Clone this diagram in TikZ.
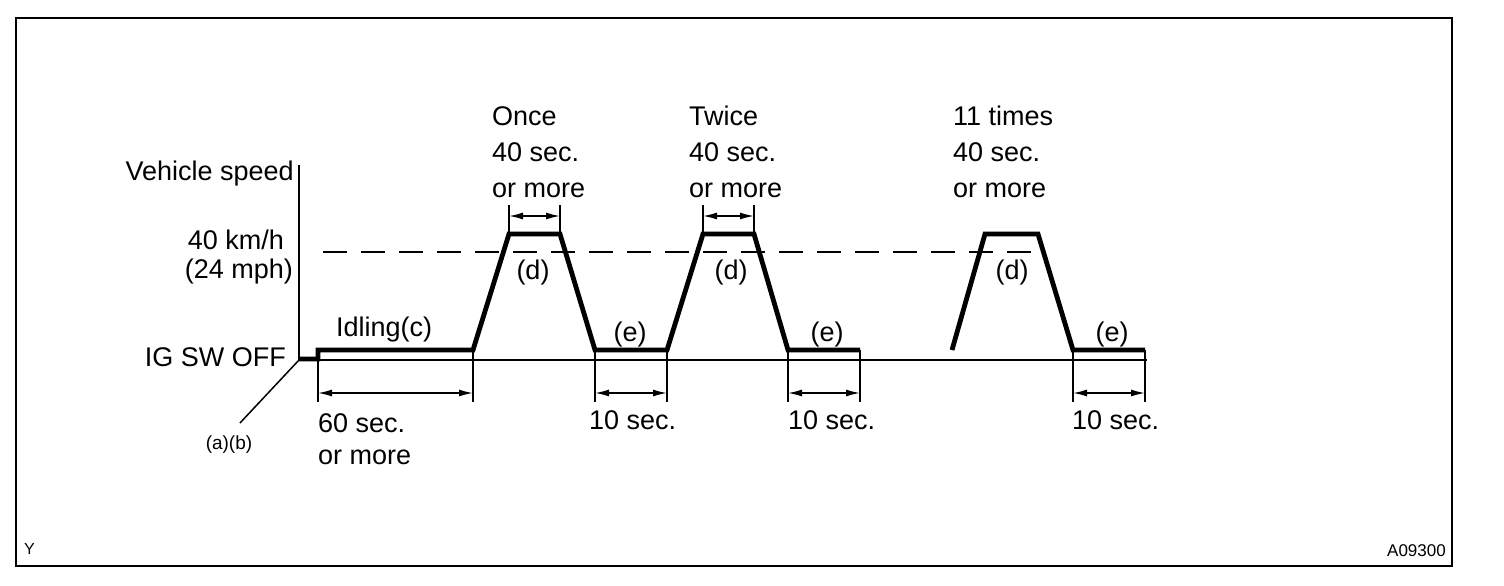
\documentclass[tikz,border=0pt]{standalone}
\usepackage{fontspec}
\setmainfont{Liberation Sans}
\usetikzlibrary{arrows.meta, positioning, calc}

\begin{document}
\begin{tikzpicture}[x=1pt, y=-1pt,
    every node/.style={font=\fontsize{27}{36}\selectfont, inner sep=0pt},
    speed/.style={line width=4.8pt, line join=miter},
    thin/.style={line width=1.5pt},
    dim/.style={line width=1.5pt, {Latex[length=14pt,width=7pt]}-{Latex[length=14pt,width=7pt]}},
    tiny/.style={font=\fontsize{19}{20}\selectfont}]
    \useasboundingbox (0,0) rectangle (1504,586);
    \draw[line width=2.8pt] (16,18) rectangle (1452,566);
    % axes
    \coordinate (o) at (299,360);
    \coordinate (ytop) at (299,165);
    \coordinate (xend) at (1147,360);
    \coordinate (diag) at (240,423);
    \draw[thin] (ytop) -- (o) -- (xend);
    \draw[thin] (o) -- (diag);
    % 40 km/h level
    \coordinate (lv1) at (323,252);
    \coordinate (lv2) at (1042,252);
    \draw[line width=1.8pt, dash pattern=on 24pt off 14pt] (lv1) -- (lv2);
    % speed profile
    \foreach \n/\x/\y in {0/299/359, 1/318/359, 2/318/350, 3/473/350, 4/509/234, 5/560/234,
        6/595/350, 7/667/350, 8/703/234, 9/754/234, 10/788/350, 11/860/350}
        \coordinate (p\n) at (\x,\y);
    \foreach \n/\x/\y in {0/952/350, 1/985/234, 2/1038/234, 3/1073/350, 4/1145/350}
        \coordinate (q\n) at (\x,\y);
    \draw[speed] (p0) -- (p1) -- (p2) -- (p3) -- (p4) -- (p5) -- (p6) -- (p7)
        -- (p8) -- (p9) -- (p10) -- (p11);
    \draw[speed] (q0) -- (q1) -- (q2) -- (q3) -- (q4);
    % time marks
    \foreach \a/\b in {p2/p3, p6/p7, p10/p11, q3/q4} {
        \draw[thin] (\a) -- ++(0,52);
        \draw[thin] (\b) -- ++(0,52);
        \draw[dim] ($(\a)+(0,43)$) -- ($(\b)+(0,43)$);
    }
    \foreach \a/\b in {p4/p5, p8/p9} {
        \draw[thin] (\a) -- ++(0,-29);
        \draw[thin] (\b) -- ++(0,-29);
        \draw[dim] ($(\a)+(0,-18)$) -- ($(\b)+(0,-18)$);
    }
    % labels
    \node[anchor=east] (vspeed) at (294,174) {Vehicle speed};
    \node (kmh) at (236,240) {40 km/h};
    \node (mph) at (239,272) {(24 mph)};
    \node[anchor=east] (igoff) at (286,357) {IG SW OFF};
    \node[tiny] (ab) at (229,445) {(a)(b)};
    \node[anchor=west] (idle) at (336,330) {Idling(c)};
    \node[anchor=north west, align=left, font=\fontsize{27}{32}\selectfont] (sixty) at (318,413) {60 sec.\\or more};
    \node[anchor=north west, align=left] (once) at (492,106) {Once\\40 sec.\\or more};
    \node[anchor=north west, align=left] (twice) at (689,106) {Twice\\40 sec.\\or more};
    \node[anchor=north west, align=left] (eleven) at (953,106) {11 times\\40 sec.\\or more};
    \node (d1) at (533,273) {(d)};
    \node (d2) at (731,273) {(d)};
    \node (d3) at (1012,273) {(d)};
    \node (e1) at (630,335) {(e)};
    \node (e2) at (827,335) {(e)};
    \node (e3) at (1112,335) {(e)};
    \node[anchor=west] (ten1) at (589,420) {10 sec.};
    \node[anchor=west] (ten2) at (788,420) {10 sec.};
    \node[anchor=west] (ten3) at (1072,420) {10 sec.};
    \node[tiny, anchor=west, font=\fontsize{16}{18}\selectfont] (ymark) at (24,549) {Y};
    \node[tiny, anchor=east, font=\fontsize{17}{18}\selectfont] (fig) at (1446,551) {A09300};
\end{tikzpicture}
\end{document}
